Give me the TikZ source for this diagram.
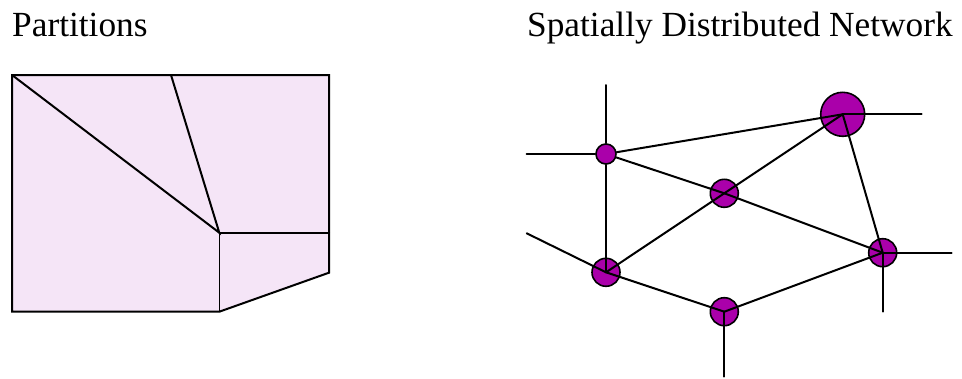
\documentclass[tikz,border=0pt]{standalone}
\usepackage{fontspec}
\setmainfont{Liberation Serif}
\definecolor{partfill}{RGB}{245,229,247}
\definecolor{nodepurple}{RGB}{170,0,170}
\tikzset{
  title/.style={anchor=base west,inner sep=0pt,font=\fontsize{35.3}{41}\selectfont},
  edge/.style={line width=2pt,line cap=round},
  hub/.style={circle,draw=black,line width=1.6pt,fill=nodepurple,inner sep=0pt,minimum size=#1},
}
\begin{document}
\begin{tikzpicture}[x=1pt,y=-1pt]
\useasboundingbox (0,0) rectangle (962,378);
\node[title] (t1) at (12,36.5) {Partitions};
\node[title] (t2) at (527,36) {Spatially Distributed Network};
% partitions
\coordinate (p1) at (12,75);
\coordinate (p2) at (329,75);
\coordinate (p3) at (329,272.7);
\coordinate (p4) at (219.3,311.7);
\coordinate (p5) at (12,311.7);
\coordinate (pc) at (219.3,232.7);
\coordinate (pt) at (171,75);
\coordinate (pr) at (329,232.7);
\fill[partfill] (p1) -- (p2) -- (p3) -- (p4) -- (p5) -- cycle;
\draw[line width=1pt] (pc) -- (p4);
\draw[edge,line join=miter] (p1) -- (p2) -- (p3) -- (p4) -- (p5) -- cycle;
\draw[edge] (p1) -- (pc) -- (pt);
\draw[edge] (pc) -- (pr);
% network
\node[hub=20pt] (A) at (606,154) {};
\node[hub=28pt] (B) at (724.3,193.3) {};
\node[hub=44pt] (C) at (842.7,114.3) {};
\node[hub=28pt] (D) at (882.7,252.7) {};
\node[hub=28pt] (E) at (606,272.3) {};
\node[hub=28pt] (F) at (724.3,311.7) {};
\coordinate (a1) at (606,85);
\coordinate (a2) at (526.7,154);
\coordinate (c1) at (921.7,114.3);
\coordinate (d1) at (951.7,252.7);
\coordinate (d2) at (882.7,311.7);
\coordinate (e1) at (526.7,233.3);
\coordinate (f1) at (724.3,376.7);
\draw[edge] (a1) -- (A);
\draw[edge] (a2) -- (A);
\draw[edge] (A) -- (C.center);
\draw[edge] (A) -- (B.center);
\draw[edge] (A) -- (E.center);
\draw[edge] (B.center) -- (D.center);
\draw[edge] (E.center) -- (B.center);
\draw[edge] (B.center) -- (C.center);
\draw[edge] (C.center) -- (D.center);
\draw[edge] (C.center) -- (c1);
\draw[edge] (D.center) -- (d1);
\draw[edge] (D.center) -- (d2);
\draw[edge] (e1) -- (E.center);
\draw[edge] (E.center) -- (F.center);
\draw[edge] (F.center) -- (D.center);
\draw[edge] (F.center) -- (f1);
\end{tikzpicture}
\end{document}
